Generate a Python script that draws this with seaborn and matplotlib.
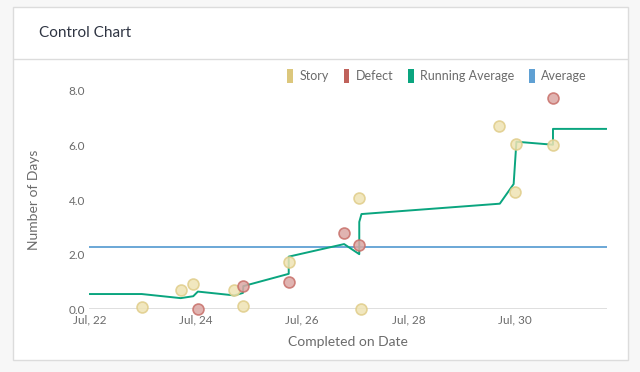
import matplotlib
matplotlib.use('Agg')
import matplotlib.pyplot as plt
import matplotlib.dates as mdates
from matplotlib.patches import Patch, Rectangle
from matplotlib.lines import Line2D
import pandas as pd
import seaborn as sns

story_dates = ['2019-07-22 23:40', '2019-07-23 17:15', '2019-07-23 22:55', '2019-07-24 17:25',
               '2019-07-24 21:30', '2019-07-25 18:00', '2019-07-27 01:50', '2019-07-27 02:50',
               '2019-07-29 17:00', '2019-07-29 23:55', '2019-07-30 00:45', '2019-07-30 17:15']
story_days = [0.1, 0.69, 0.93, 0.70, 0.13, 1.72, 4.07, 0.0, 6.73, 4.29, 6.06, 6.03]

defect_dates = ['2019-07-24 01:00', '2019-07-24 21:20', '2019-07-25 18:00', '2019-07-26 19:00',
                '2019-07-27 01:50', '2019-07-30 17:15']
defect_days = [0.0, 0.87, 1.0, 2.79, 2.35, 7.73]

running_dates = ['2019-07-22 00:00', '2019-07-22 23:40', '2019-07-23 17:15', '2019-07-23 22:55',
                 '2019-07-24 01:00', '2019-07-24 17:25', '2019-07-24 21:20', '2019-07-24 21:30',
                 '2019-07-25 18:00', '2019-07-25 18:00', '2019-07-26 19:00', '2019-07-27 01:50',
                 '2019-07-27 01:50', '2019-07-27 02:50', '2019-07-29 17:15', '2019-07-29 23:30',
                 '2019-07-30 00:45', '2019-07-30 17:15', '2019-07-30 17:15', '2019-07-31 17:30']
running_avg = [0.56, 0.56, 0.41, 0.48, 0.65, 0.51, 0.60, 0.85, 1.30, 1.93, 2.39, 2.02,
               3.20, 3.49, 3.87, 4.59, 6.14, 6.03, 6.61, 6.61]

average = 2.30
y_ticks = [0, 2, 4, 6, 8]
tick_days = [22, 24, 26, 28, 30]

story_c = '#dcc77c'
defect_c = '#c0625b'
green = '#0aa57f'
blue = '#5fa0d3'
txt = '#6b6b6b'

sns.set_theme(style='white', rc={'axes.spines.right': False, 'axes.spines.top': False,
                                 'axes.spines.left': False, 'axes.spines.bottom': False})
plt.rcParams['font.family'] = ['Lato', 'DejaVu Sans']

fig = plt.figure(figsize=(6.4, 3.72), dpi=100, facecolor='#f7f7f7')
# card behind everything
fig.patches.append(Rectangle((0.0208, 0.0315), 0.9602, 0.9505, transform=fig.transFigure,
                             facecolor='white', edgecolor='#dcdcdc', lw=1, zorder=-5))
fig.lines.append(Line2D([0.0208, 0.981], [0.8406, 0.8406], transform=fig.transFigure,
                        color='#dcdcdc', lw=1, zorder=-4))
fig.text(0.061, 0.911, 'Control Chart', fontsize=11, color='#2e3442', va='center', ha='left')

ax = fig.add_axes([0.1395, 0.1685, 0.8085, 0.587])
ax.set_facecolor('none')
ax.set_zorder(2)

df_story = pd.DataFrame({'date': pd.to_datetime(story_dates), 'days': story_days})
df_defect = pd.DataFrame({'date': pd.to_datetime(defect_dates), 'days': defect_days})
df_run = pd.DataFrame({'date': pd.to_datetime(running_dates), 'days': running_avg})

ax.axhline(0, color='#d9d9d9', lw=1.2, zorder=1)
ax.axhline(average, color=blue, lw=1.3, zorder=2)
sns.lineplot(df_run, x='date', y='days', estimator=None, sort=False, color=green, lw=1.4,
             ax=ax, zorder=3)
sns.scatterplot(df_story, x='date', y='days', s=62, color='#efe3b4', edgecolor='#e0cd8a',
                linewidth=1.2, alpha=0.85, ax=ax, zorder=4, clip_on=False)
sns.scatterplot(df_defect, x='date', y='days', s=62, color='#dba7a4', edgecolor='#c8706a',
                linewidth=1.2, alpha=0.85, ax=ax, zorder=5, clip_on=False)

ax.set_xlim(pd.Timestamp('2019-07-22 00:00'), pd.Timestamp('2019-07-31 17:30'))
ax.set_ylim(0, 8)
ax.set_yticks(y_ticks)
ax.yaxis.set_major_formatter(matplotlib.ticker.FormatStrFormatter('%.1f'))
ax.xaxis.set_major_locator(mdates.DayLocator(bymonthday=tick_days))
ax.xaxis.set_major_formatter(mdates.DateFormatter('%b, %d'))
ax.tick_params(axis='both', length=0, labelsize=8.5, colors=txt)
ax.tick_params(axis='x', pad=4)
ax.tick_params(axis='y', pad=3)

ax.set_xlabel('Completed on Date', fontsize=10, color=txt, va='center')
ax.set_ylabel('Number of Days', fontsize=10, color=txt, va='center')
ax.xaxis.set_label_coords(0.5, -0.15)
ax.yaxis.set_label_coords(-0.107, 0.5)

handles = [Patch(facecolor=story_c, edgecolor='none', label='Story'),
           Patch(facecolor=defect_c, edgecolor='none', label='Defect'),
           Patch(facecolor=green, edgecolor='none', label='Running Average'),
           Patch(facecolor=blue, edgecolor='none', label='Average')]
fig.legend(handles=handles, loc='center', bbox_to_anchor=(0.683, 0.796), ncol=4,
           frameon=False, fontsize=9, handlelength=0.45, handleheight=1.3,
           handletextpad=0.5, columnspacing=1.2, labelcolor=txt)

fig.savefig('out.png', dpi=100, facecolor=fig.get_facecolor())
